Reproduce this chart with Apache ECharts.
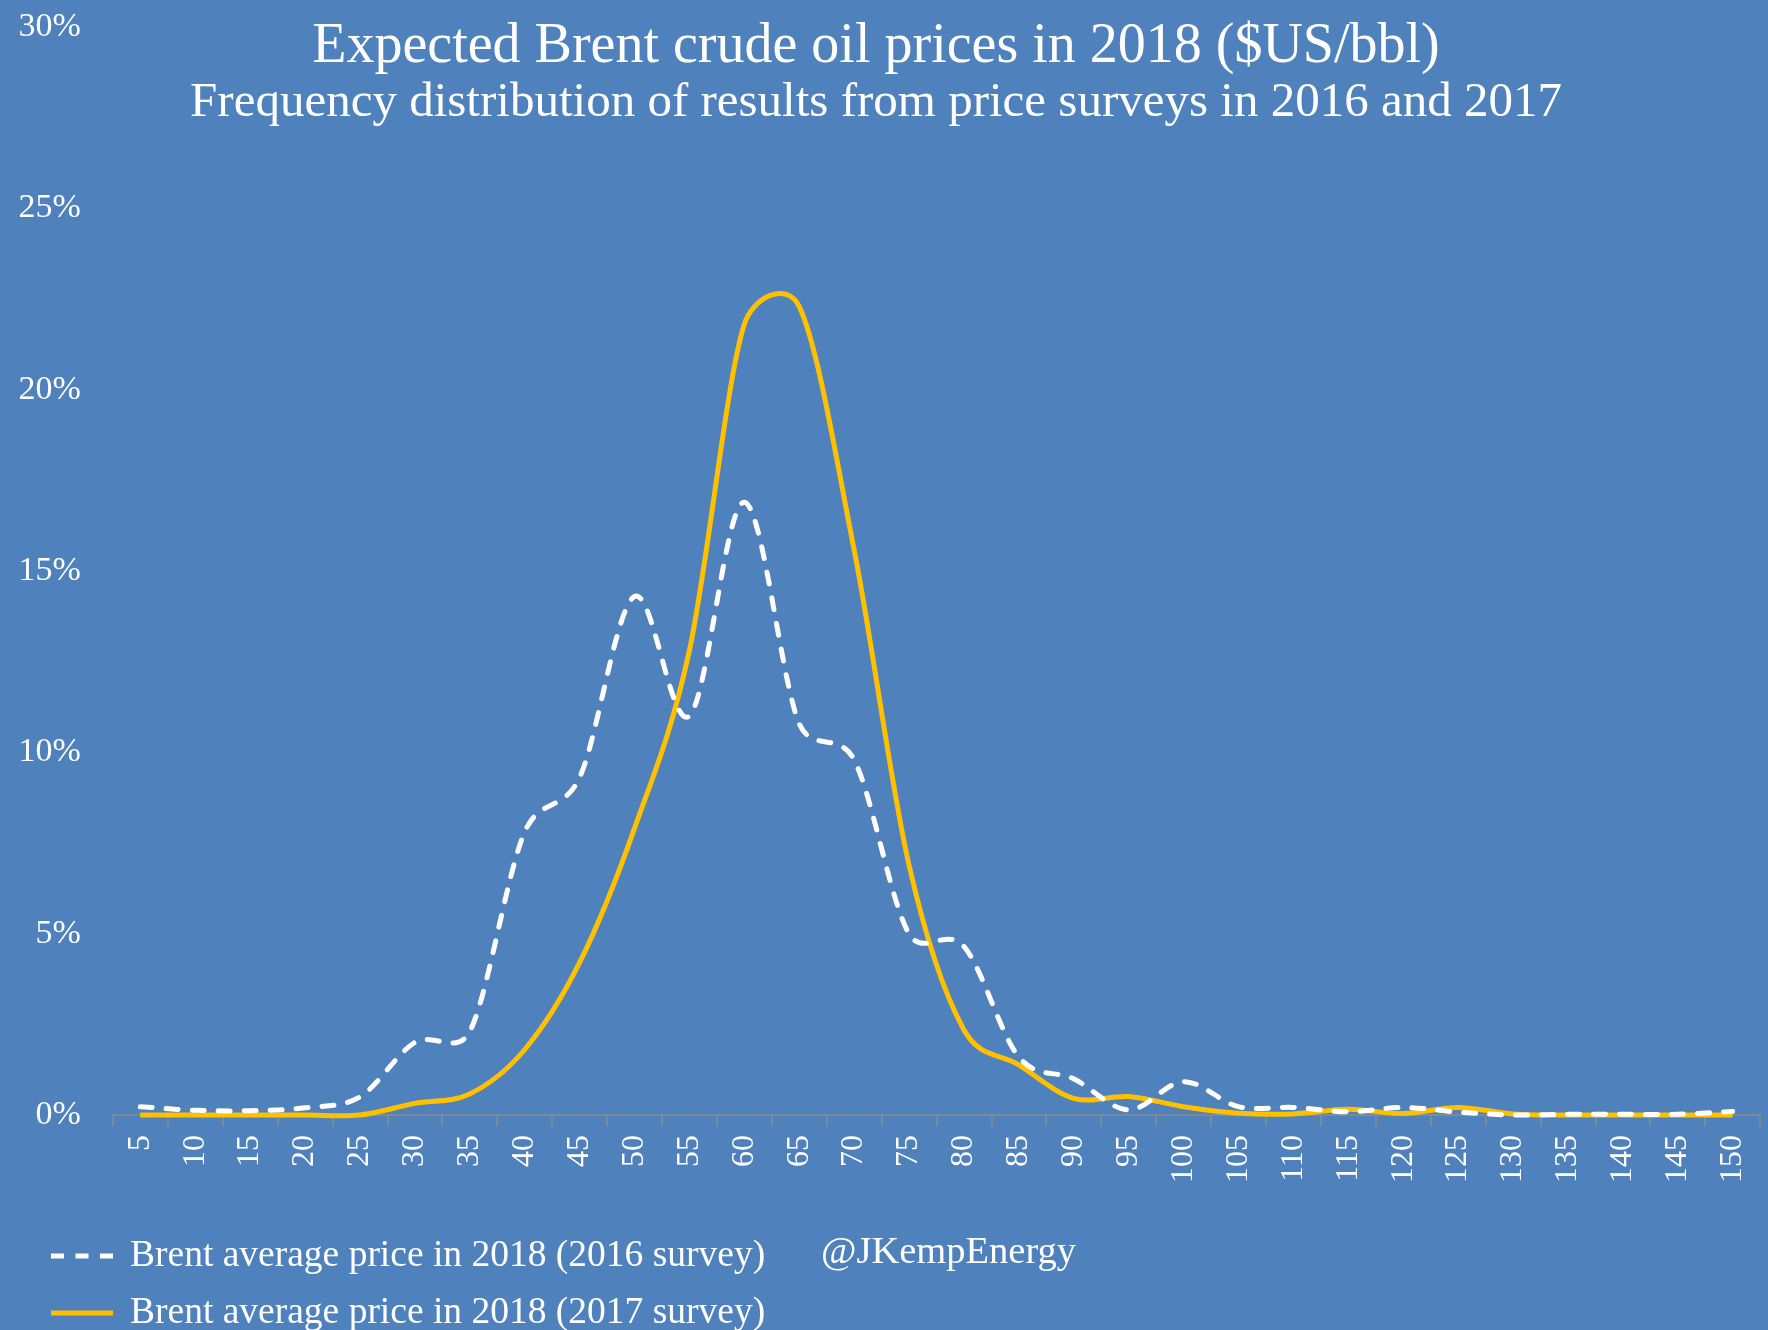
<!DOCTYPE html>
<html>
<head>
<meta charset="utf-8">
<script src="https://cdn.jsdelivr.net/npm/echarts@6/dist/echarts.min.js"></script>
<style>
html,body{margin:0;padding:0;background:#4F81BD;}
#chart{width:1768px;height:1330px;}
</style>
</head>
<body>
<div id="chart"></div>
<script>
var categories = ['5','10','15','20','25','30','35','40','45','50','55','60','65','70','75','80','85','90','95','100','105','110','115','120','125','130','135','140','145','150'];
var survey2016 = [0.23,0.13,0.12,0.2,0.5,2.0,2.3,7.8,9.3,14.3,11.0,16.9,10.8,9.8,5.0,4.65,1.6,1.0,0.14,0.92,0.23,0.21,0.09,0.21,0.08,0.0,0.02,0.02,0.02,0.1];
var survey2017 = [0,0,0,0,0,0.32,0.58,1.8,4.2,7.9,12.8,21.8,22.3,15.6,6.9,2.35,1.38,0.46,0.51,0.23,0.05,0.03,0.16,0.04,0.21,0.03,0,0,0,0];
var seriesNames = ['Brent average price in 2018 (2016 survey)','Brent average price in 2018 (2017 survey)'];
var yTicks = [0,5,10,15,20,25,30];
var titleText = 'Expected Brent crude oil prices in 2018 ($US/bbl)';
var subtitleText = 'Frequency distribution of results from price surveys in 2016 and 2017';
var creditText = '@JKempEnergy';

var FONT = '"Liberation Serif", "Times New Roman", serif';
var WHITE = '#ffffff', GOLD = '#FFC000';

function dist(a, b) { var dx = a[0] - b[0], dy = a[1] - b[1]; return Math.sqrt(dx * dx + dy * dy); }
// Spreadsheet-style smoothed line: Bezier segments through the points the axes
// give for each value, with handles (P[i+1]-P[i-1])/6 limited to half a segment.
function smoothRenderer(values, style) {
  return function (params, api) {
    if (params.dataIndex !== 0) return null;
    var pts = values.map(function (v, i) { return api.coord([i, v]); });
    var d = 'M' + pts[0][0] + ',' + pts[0][1];
    for (var i = 0; i < pts.length - 1; i++) {
      var p0 = pts[i - 1] || pts[i], p1 = pts[i], p2 = pts[i + 1], p3 = pts[i + 2] || pts[i + 1];
      var d02 = dist(p0, p2), d12 = dist(p1, p2), d13 = dist(p1, p3);
      var f0 = (d02 / 6 < d12 / 2 || d02 === 0) ? 1 / 6 : d12 / (2 * d02);
      var f1 = (d13 / 6 < d12 / 2 || d13 === 0) ? 1 / 6 : d12 / (2 * d13);
      var c1x = p1[0] + (p2[0] - p0[0]) * f0, c1y = p1[1] + (p2[1] - p0[1]) * f0;
      var c2x = p2[0] - (p3[0] - p1[0]) * f1, c2y = p2[1] - (p3[1] - p1[1]) * f1;
      d += ' C' + c1x + ',' + c1y + ' ' + c2x + ',' + c2y + ' ' + p2[0] + ',' + p2[1];
    }
    return {type: 'path', shape: {pathData: d}, style: style};
  };
}
function toPairs(values) { return values.map(function (v, i) { return [i, v]; }); }

var legendText = {color: '#fff', fontFamily: FONT, fontSize: 37.5, padding: [0, 0, 0, 12]};
var chart = echarts.init(document.getElementById('chart'));
chart.setOption({
  backgroundColor: '#4F81BD',
  animation: false,
  title: [
    {text: titleText, left: 871, top: 14, textAlign: 'center',
     textStyle: {color: '#fff', fontFamily: FONT, fontSize: 56, fontWeight: 'normal'}},
    {text: subtitleText, left: 871, top: 74, textAlign: 'center',
     textStyle: {color: '#fff', fontFamily: FONT, fontSize: 49, fontWeight: 'normal'}}
  ],
  grid: {left: 112.8, right: 8, top: 27.2, bottom: 215, containLabel: false},
  legend: [
    {left: 46, top: 1232, itemWidth: 62, itemHeight: 5, selectedMode: false,
     data: [{name: seriesNames[0], icon: 'path://M0,0h13v5h-13z M24.5,0h13v5h-13z M49,0h13v5h-13z'}],
     textStyle: legendText},
    {left: 46, top: 1289, itemWidth: 62, itemHeight: 5, selectedMode: false,
     data: [{name: seriesNames[1], icon: 'path://M0,0h62v5h-62z'}],
     textStyle: legendText}
  ],
  xAxis: {
    type: 'category', data: categories, boundaryGap: true,
    axisLine: {show: true, lineStyle: {color: '#8c8c8c', width: 1.5}},
    axisTick: {show: true, length: 11, lineStyle: {color: '#8c8c8c', width: 1.5}},
    axisLabel: {rotate: 90, interval: 0, margin: 20, color: '#fff', fontFamily: FONT, fontSize: 32},
    splitLine: {show: false}
  },
  yAxis: {
    type: 'value', min: yTicks[0], max: yTicks[yTicks.length - 1], interval: 5,
    axisLine: {show: false}, axisTick: {show: false}, splitLine: {show: false},
    axisLabel: {margin: 32, color: '#fff', fontFamily: FONT, fontSize: 34, formatter: '{value}%'}
  },
  graphic: [
    {type: 'text', left: 821, top: 1233,
     style: {text: creditText, fill: '#fff', font: '38.5px ' + FONT}}
  ],
  series: [
    {name: seriesNames[1], type: 'custom', data: toPairs(survey2017), encode: {x: 0, y: 1},
     itemStyle: {color: GOLD}, z: 2,
     renderItem: smoothRenderer(survey2017, {fill: 'none', stroke: GOLD, lineWidth: 5, lineJoin: 'round'})},
    {name: seriesNames[0], type: 'custom', data: toPairs(survey2016), encode: {x: 0, y: 1},
     itemStyle: {color: WHITE}, z: 3,
     renderItem: smoothRenderer(survey2016, {fill: 'none', stroke: WHITE, lineWidth: 5, lineDash: [12, 14], lineCap: 'round', lineJoin: 'round'})}
  ]
});
</script>
</body>
</html>
